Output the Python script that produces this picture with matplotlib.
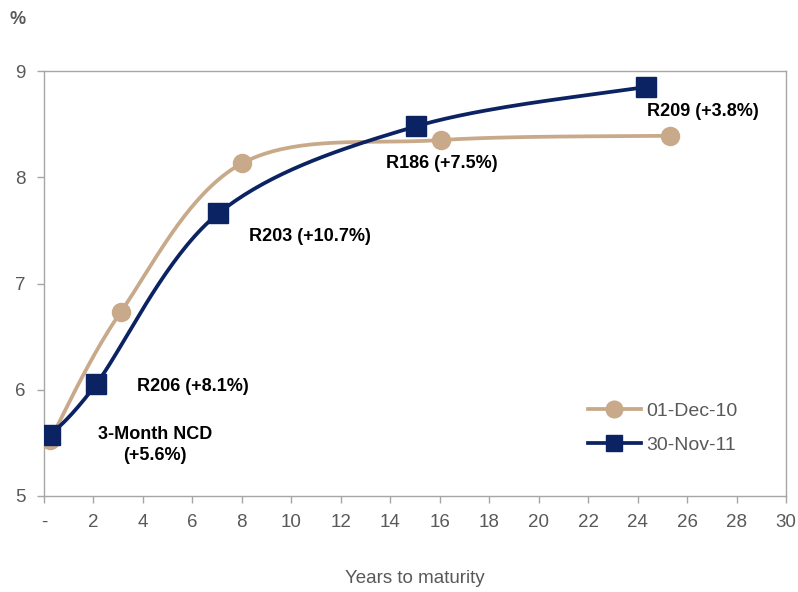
import numpy as np
import matplotlib
matplotlib.use("Agg")
import matplotlib.pyplot as plt
from matplotlib.lines import Line2D

plt.rcParams["font.family"] = ["Liberation Sans", "DejaVu Sans"]

# yield curves: years to maturity vs yield (%)
years_2010 = [0.25, 3.1, 8.0, 16.05, 25.3]
yield_2010 = [5.53, 6.73, 8.13, 8.35, 8.39]
years_2011 = [0.25, 2.1, 7.05, 15.05, 24.35]
yield_2011 = [5.57, 6.05, 7.66, 8.48, 8.85]

bond_labels = ["3-Month NCD\n(+5.6%)", "R206 (+8.1%)", "R203 (+10.7%)",
               "R186 (+7.5%)", "R209 (+3.8%)"]
label_pos = [(4.5, 5.48), (6.0, 6.03), (10.75, 7.44), (16.1, 8.13), (26.65, 8.62)]

TAN = "#C8A98A"
NAVY = "#0B2263"
GRAY = "#595959"


def smooth(xs, ys, n=40):
    """Bezier smoothing through the points, like a spreadsheet smoothed line."""
    p = np.column_stack([xs, ys]).astype(float)
    p = np.vstack([p[0], p, p[-1]])
    out = []
    t = np.linspace(0, 1, n)[:, None]
    for i in range(1, len(p) - 2):
        p0, p1, p2, p3 = p[i - 1], p[i], p[i + 1], p[i + 2]
        c1 = p1 + (p2 - p0) / 6
        c2 = p2 - (p3 - p1) / 6
        seg = ((1 - t) ** 3) * p1 + 3 * ((1 - t) ** 2) * t * c1 \
            + 3 * (1 - t) * t ** 2 * c2 + t ** 3 * p2
        out.append(seg if i == 1 else seg[1:])
    out = np.vstack(out)
    return out[:, 0], out[:, 1]


fig = plt.figure(figsize=(7.98, 5.92), dpi=100)
ax = fig.add_axes([44 / 798, 1 - 496 / 592, (786 - 44) / 798, (496 - 71) / 592])

sx, sy = smooth(years_2010, yield_2010)
ax.plot(sx, sy, color=TAN, lw=2.7, zorder=2)
ax.plot(years_2010, yield_2010, "o", color=TAN, ms=13, zorder=3)
sx, sy = smooth(years_2011, yield_2011)
ax.plot(sx, sy, color=NAVY, lw=2.7, zorder=4)
ax.plot(years_2011, yield_2011, "s", color=NAVY, ms=14, zorder=5)

for txt, (x, y) in zip(bond_labels, label_pos):
    ax.text(x, y, txt, ha="center", va="center", fontsize=13,
            fontweight="bold", color="black", linespacing=1.3)

ax.set_xlim(0, 30)
ax.set_ylim(5, 9)
ax.set_xticks(range(0, 31, 2))
ax.set_xticklabels(["-"] + [str(v) for v in range(2, 31, 2)])
ax.set_yticks([5, 6, 7, 8, 9])
for s in ax.spines.values():
    s.set_color("#A6A6A6")
    s.set_linewidth(1.0)
ax.tick_params(colors="#A6A6A6", labelcolor=GRAY, labelsize=13.5,
               length=5, width=1.0, pad=8)
ax.set_xlabel("Years to maturity", color=GRAY, fontsize=13.5, labelpad=28)
fig.text(18 / 798, 1 - 20 / 592, "%", color=GRAY, fontsize=13,
         fontweight="bold", ha="center", va="center")

handles = [Line2D([], [], color=TAN, lw=2.7, marker="o", ms=12),
           Line2D([], [], color=NAVY, lw=2.7, marker="s", ms=12)]
ax.legend(handles, ["01-Dec-10", "30-Nov-11"], loc="center left",
          bbox_to_anchor=(588 / 798, 1 - 428 / 592),
          bbox_transform=fig.transFigure, borderpad=0, borderaxespad=0,
          frameon=False, fontsize=14, labelcolor=GRAY, handlelength=2.7,
          handletextpad=0.3, labelspacing=0.85)

fig.savefig("out.png", dpi=100)
